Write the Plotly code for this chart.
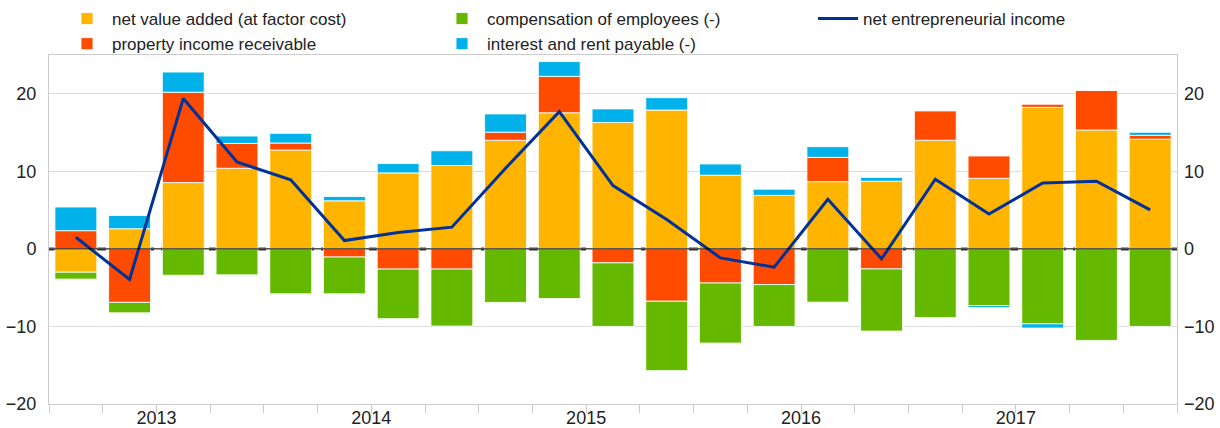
import plotly.graph_objects as go

quarters = list(range(21))
year_labels = ["2013", "2014", "2015", "2016", "2017"]
year_pos = [1.5, 5.5, 9.5, 13.5, 17.5]

net_value_added = [-3.0, 2.6, 8.55, 10.4, 12.75, 6.2, 9.8, 10.75, 14.0, 17.55, 16.3,
                   17.9, 9.5, 6.9, 8.67, 8.72, 14.0, 9.1, 18.25, 15.33, 14.14]
property_income = [2.35, -6.9, 11.65, 3.2, 0.9, -1.05, -2.6, -2.6, 1.05, 4.7, -1.8,
                   -6.75, -4.4, -4.6, 3.13, -2.58, 3.82, 2.88, 0.4, 5.12, 0.5]
compensation = [-0.9, -1.35, -3.4, -3.35, -5.8, -4.75, -6.4, -7.35, -6.9, -6.4, -8.2,
                -8.95, -7.75, -5.4, -6.87, -8.02, -8.85, -7.3, -9.66, -11.8, -10.0]
interest_rent = [3.05, 1.7, 2.6, 0.95, 1.25, 0.55, 1.2, 1.9, 2.35, 1.9, 1.75,
                 1.6, 1.45, 0.8, 1.38, 0.5, 0.0, -0.25, -0.55, 0.0, 0.4]
net_entrepreneurial = [1.5, -3.95, 19.4, 11.2, 8.9, 1.07, 2.1, 2.8, 10.4, 17.7, 8.16,
                       3.8, -1.16, -2.36, 6.4, -1.29, 8.98, 4.5, 8.5, 8.72, 5.03]

FONT = "Liberation Sans, Arial, sans-serif"
C_YEL, C_ORA, C_GRN, C_CYA, C_BLU = "#FFB400", "#FF4B00", "#65B800", "#00B1EA", "#003299"

fig = go.Figure()
bar_line = dict(color="rgba(255,255,255,0.85)", width=1)
fig.add_trace(go.Bar(x=quarters, y=net_value_added, name="net value added (at factor cost)",
                     marker=dict(color=C_YEL, line=bar_line), legend="legend"))
fig.add_trace(go.Bar(x=quarters, y=property_income, name="property income receivable",
                     marker=dict(color=C_ORA, line=bar_line), legend="legend"))
fig.add_trace(go.Bar(x=quarters, y=compensation, name="compensation of employees (-)",
                     marker=dict(color=C_GRN, line=bar_line), legend="legend2"))
fig.add_trace(go.Bar(x=quarters, y=interest_rent, name="interest and rent payable (-)",
                     marker=dict(color=C_CYA, line=bar_line), legend="legend2"))
fig.add_trace(go.Scatter(x=quarters, y=net_entrepreneurial, name="net entrepreneurial income",
                         mode="lines", line=dict(color=C_BLU, width=3), yaxis="y2",
                         legend="legend3"))

H = 349.0
def py(px):
    return (404 - px) / H

leg_common = dict(orientation="v", yanchor="top", xanchor="left", bgcolor="rgba(0,0,0,0)",
                  font=dict(family=FONT, size=17, color="#222222"), tracegroupgap=0,
                  itemwidth=40, traceorder="normal")

fig.update_layout(
    width=1220, height=428,
    margin=dict(l=49, r=43, t=55, b=24, autoexpand=False),
    paper_bgcolor="white", plot_bgcolor="white",
    barmode="relative", bargap=0.22,
    font=dict(family=FONT, size=18, color="#222222"),
    legend=dict(x=(62 - 49) / 1128, y=py(1), **leg_common),
    legend2=dict(x=(437 - 49) / 1128, y=py(1), **leg_common),
    legend3=dict(x=(813 - 49) / 1128, y=py(1), **leg_common),
    xaxis=dict(range=[-0.5, 20.5], tickmode="array", tickvals=year_pos, ticktext=year_labels,
               ticks="outside", ticklen=8, tickcolor="#cccccc", showgrid=False,
               showline=True, linecolor="#cccccc", mirror=True, zeroline=False,
               minor=dict(tickmode="linear", tick0=-0.5, dtick=1, ticks="outside",
                          ticklen=8, tickcolor="#cccccc", showgrid=False),
               ticklabelstandoff=-11, tickfont=dict(size=18)),
    yaxis=dict(range=[-20, 25], tickmode="array", tickvals=[-20, -10, 0, 10, 20],
               showgrid=True, gridcolor="#dcdcdc", gridwidth=1, zeroline=False,
               showline=True, linecolor="#cccccc", mirror=True, ticks="",
               ticklabelstandoff=8, tickfont=dict(size=18)),
    yaxis2=dict(range=[-20, 25], tickmode="array", tickvals=[-20, -10, 0, 10, 20],
                overlaying="y", side="right", showgrid=False, zeroline=False,
                showline=False, ticks="", ticklabelstandoff=6, tickfont=dict(size=18)),
    shapes=[
        dict(type="line", xref="paper", x0=0, x1=1, yref="y", y0=0, y1=0, layer="below",
             line=dict(color="#444444", width=3, dash="9px,7px")),
        dict(type="line", xref="paper", x0=0, x1=1, yref="y", y0=0, y1=0, layer="above",
             line=dict(color="#000000", width=1)),
    ],
)

fig.write_html("out.html", config={"displayModeBar": False},
               post_script="document.body.style.margin='0';document.body.style.overflow='hidden';")
